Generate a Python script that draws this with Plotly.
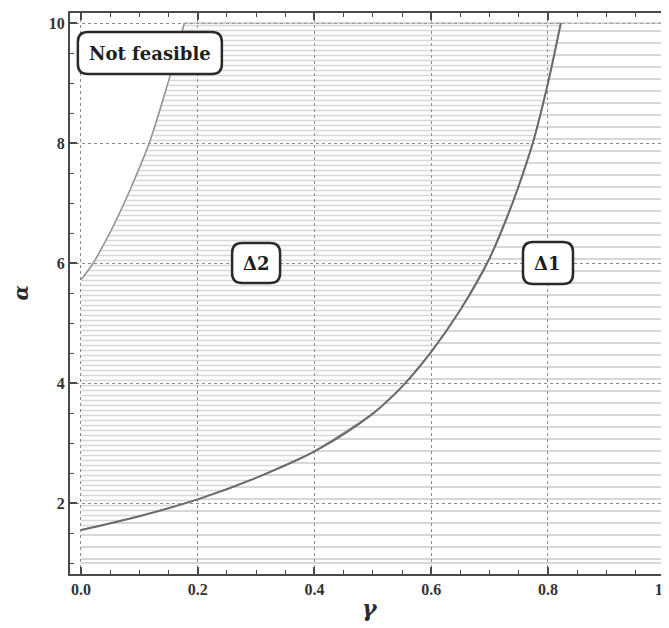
import plotly.graph_objects as go

# ---- data ----
gamma_feasible = [0.0, 0.021, 0.052, 0.081, 0.117, 0.152, 0.177]
alpha_feasible = [5.72, 6.0, 6.55, 7.15, 8.0, 9.1, 10.0]

gamma_split = [0.0, 0.1, 0.2, 0.3, 0.4, 0.5, 0.55, 0.6, 0.65, 0.70, 0.74, 0.774, 0.80, 0.822]
alpha_split = [1.55, 1.78, 2.06, 2.42, 2.86, 3.49, 3.94, 4.52, 5.22, 6.08, 7.02, 8.0, 9.0, 10.0]

gamma_min, gamma_max = 0.0, 1.0
alpha_min, alpha_max = 1.0, 10.0

labels = ["Not feasible", "Δ2", "Δ1"]
label_gamma = [0.118, 0.30, 0.80]
label_alpha = [9.5, 6.0, 6.0]
label_halfsize = [(72, 21), (24, 20), (25, 21)]

x_ticks = [0.0, 0.2, 0.4, 0.6, 0.8, 1.0]
y_ticks = [2, 4, 6, 8, 10]

fig = go.Figure()

# Delta 1 region (below/right of split curve)
d1_x = gamma_split + [gamma_max, gamma_max, gamma_min]
d1_y = alpha_split + [alpha_max, alpha_min, alpha_min]
fig.add_trace(go.Scatter(
    x=d1_x, y=d1_y, mode="lines", fill="toself",
    fillcolor="rgba(255,255,255,0)",
    fillpattern=dict(shape="-", size=12, solidity=0.14, fgcolor="#a0a0a0",
                     bgcolor="rgba(255,255,255,0)"),
    line=dict(color="#b0b0b0", width=1), hoverinfo="skip", showlegend=False))

# Delta 2 region (between feasibility curve and split curve)
d2_x = gamma_feasible + [gamma_split[-1]] + gamma_split[::-1]
d2_y = alpha_feasible + [alpha_max] + alpha_split[::-1]
fig.add_trace(go.Scatter(
    x=d2_x, y=d2_y, mode="lines", fill="toself",
    fillcolor="rgba(255,255,255,0)",
    fillpattern=dict(shape="-", size=5, solidity=0.32, fgcolor="#b2b2b2",
                     bgcolor="rgba(255,255,255,0)"),
    line=dict(color="#a8a8a8", width=1), hoverinfo="skip", showlegend=False))

# boundary curves
fig.add_trace(go.Scatter(x=gamma_feasible, y=alpha_feasible, mode="lines",
                         line=dict(color="#959595", width=1.5, shape="spline", smoothing=1),
                         hoverinfo="skip", showlegend=False))
fig.add_trace(go.Scatter(x=gamma_split, y=alpha_split, mode="lines",
                         line=dict(color="#6a6a6a", width=2, shape="spline", smoothing=1),
                         hoverinfo="skip", showlegend=False))


def rounded_path(w, h, r):
    return (f"M {-w + r},{-h} L {w - r},{-h} Q {w},{-h} {w},{-h + r} "
            f"L {w},{h - r} Q {w},{h} {w - r},{h} L {-w + r},{h} "
            f"Q {-w},{h} {-w},{h - r} L {-w},{-h + r} Q {-w},{-h} {-w + r},{-h} Z")


for txt, gx, ay, (w, h) in zip(labels, label_gamma, label_alpha, label_halfsize):
    fig.add_shape(type="path", xref="x", yref="y",
                  xsizemode="pixel", ysizemode="pixel",
                  xanchor=gx, yanchor=ay,
                  path=rounded_path(w, h, 10),
                  line=dict(color="#2a2a2a", width=2.5),
                  fillcolor="white", layer="above")
    fig.add_annotation(x=gx, y=ay, xref="x", yref="y", text=txt,
                       showarrow=False,
                       font=dict(family="DejaVu Serif", size=18, color="#1e1e1e",
                                 weight="bold"))

# axis titles
fig.add_annotation(x=0, y=0.5, xref="paper", yref="paper", text="α",
                   showarrow=False, xshift=-50, textangle=-90,
                   xanchor="center", yanchor="middle",
                   font=dict(family="DejaVu Serif", size=20, color="#2a2a2a",
                             style="italic", weight="bold"))
fig.add_annotation(x=0.5, y=0, xref="paper", yref="paper", text="γ",
                   showarrow=False, yshift=-34,
                   xanchor="center", yanchor="middle",
                   font=dict(family="DejaVu Serif", size=22, color="#2a2a2a",
                             style="italic", weight="bold"))

axis_common = dict(
    showline=True, linecolor="#4a4a4a", linewidth=2, mirror="ticks",
    ticks="inside", ticklen=7, tickwidth=1.5, tickcolor="#4a4a4a",
    showgrid=True, gridcolor="#8a8a8a", gridwidth=1, griddash="3px,3px",
    zeroline=False, automargin=False,
    tickfont=dict(family="Liberation Serif", size=16, color="#333333", weight="bold"),
)

fig.update_xaxes(
    range=[-0.0188, 1.0073], tickvals=x_ticks, tickformat=".1f",
    ticklabeloverflow="allow",
    minor=dict(dtick=0.05, tick0=0, ticks="inside", ticklen=4, tickwidth=1.2,
               tickcolor="#4a4a4a", showgrid=False),
    **axis_common)
fig.update_yaxes(
    range=[0.817, 10.167], tickvals=y_ticks,
    minor=dict(dtick=0.5, tick0=0, ticks="inside", ticklen=4, tickwidth=1.2,
               tickcolor="#4a4a4a", showgrid=False),
    **axis_common)

fig.update_layout(
    width=669, height=628,
    margin=dict(l=62, r=8, t=5, b=62, autoexpand=False),
    plot_bgcolor="white", paper_bgcolor="white",
    showlegend=False,
)

fig.write_html("out.html")
